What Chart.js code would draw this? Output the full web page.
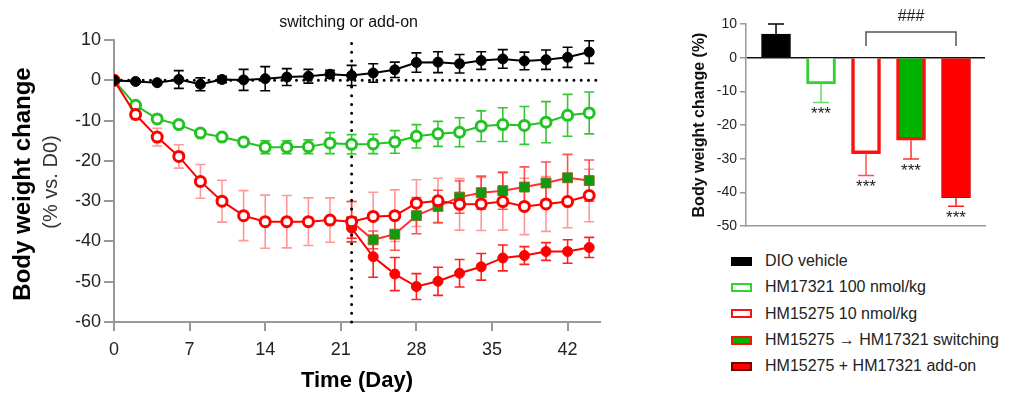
<!DOCTYPE html>
<html>
<head>
<meta charset="utf-8">
<script src="https://cdn.jsdelivr.net/npm/chart.js@4"></script>
<style>
  body { margin: 0; background: #fff; width: 1017px; height: 394px; position: relative; overflow: hidden;
         font-family: "Liberation Sans", Arial, sans-serif; }
  #lineWrap { position: absolute; left: 0; top: 0; }
  #barWrap { position: absolute; left: 680px; top: 0; }
  #legend { position: absolute; left: 731px; top: 248px; }
  .item { display: flex; align-items: center; height: 26.3px; font-size: 16px; color: #222; white-space: nowrap; }
  .box { width: 17px; height: 5px; border: 2px solid; margin-right: 13px; }
</style>
</head>
<body>
<div id="lineWrap"><canvas id="lineChart" width="620" height="394"></canvas></div>
<div id="barWrap"><canvas id="barChart" width="337" height="240"></canvas></div>
<div id="legend"></div>
<script>
// Data
const days = [0, 2, 4, 6, 8, 10, 12, 14, 16, 18, 20, 22, 24, 26, 28, 30, 32, 34, 36, 38, 40, 42, 44];
const lateDays = [22, 24, 26, 28, 30, 32, 34, 36, 38, 40, 42, 44];
const switchDay = 22;

const vehicle = [0, -0.3, -0.6, 0.2, -1.0, 0.2, 0.1, 0.4, 0.8, 1.0, 1.5, 1.2, 1.8, 2.6, 4.4, 4.5, 4.1, 4.9, 5.3, 4.8, 5.1, 5.7, 7.0];
const vehicleErr = [0, 0.3, 0.3, 2.2, 1.6, 0.8, 2.6, 3.0, 2.1, 1.7, 1.0, 2.5, 2.3, 1.9, 2.4, 2.6, 2.3, 2.2, 2.3, 2.2, 2.4, 2.5, 2.8];
const hm17321 = [0, -6.2, -9.6, -11.0, -13.1, -14.1, -15.3, -16.6, -16.6, -16.5, -15.6, -15.9, -15.8, -15.3, -13.9, -13.3, -12.9, -11.4, -11.0, -11.2, -10.4, -8.7, -8.1];
const hm17321Err = [0, 0.6, 0.6, 0.6, 0.6, 0.6, 0.8, 1.6, 1.6, 1.7, 2.6, 2.4, 2.4, 2.8, 2.9, 3.1, 3.6, 3.8, 4.2, 4.7, 5.1, 5.2, 5.2];
const hm15275 = [0, -8.5, -14.1, -18.9, -25.1, -30.0, -33.6, -35.1, -35.1, -35.1, -34.7, -35.1, -33.8, -33.6, -30.5, -29.9, -30.8, -30.7, -30.1, -31.3, -30.7, -30.1, -28.6];
const hm15275Err = [0, 1.2, 2.2, 2.9, 4.2, 5.2, 6.2, 6.6, 6.5, 5.9, 5.5, 5.0, 6.0, 6.4, 5.8, 5.6, 6.4, 6.6, 7.1, 7.0, 6.8, 6.5, 6.5];
const switching = [-35.1, -39.6, -38.2, -33.6, -31.3, -29.0, -27.9, -27.4, -26.5, -25.5, -24.2, -24.9];
const switchingErr = [5, 2.2, 4, 4.5, 4, 4, 4.1, 4.6, 5, 5.2, 5.8, 5.1];
const addOn = [-36.7, -43.8, -48.1, -51.2, -49.9, -47.9, -46.3, -44.1, -43.5, -42.5, -42.5, -41.5];
const addOnErr = [2.5, 5.1, 4.1, 3.2, 3.5, 3.4, 3.3, 3.2, 2.2, 2.2, 2.9, 2.5];

const xTicks = [0, 7, 14, 21, 28, 35, 42];
const yTicks = [10, 0, -10, -20, -30, -40, -50, -60];

const groups = ['DIO vehicle', 'HM17321 100 nmol/kg', 'HM15275 10 nmol/kg', 'HM15275 \u2192 HM17321 switching', 'HM15275 + HM17321 add-on'];
const finalChange = [7, -7.8, -28.5, -24.5, -41.6];
const finalErr = [3, 5.5, 6.5, 5.6, 2.5];
const finalStars = ['', '***', '***', '***', '***'];
const barTicks = [10, 0, -10, -20, -30, -40, -50];

const FONT = '"Liberation Sans", Arial, sans-serif';
const GREEN = '#22c322';
const RED = '#ff0000';

const pts = (xs, ys) => xs.map((x, i) => ({ x: x, y: ys[i] }));

// error bars drawn through the chart scales
const errorBars = {
  id: 'errorBars',
  beforeDatasetsDraw(chart) {
    const { ctx } = chart;
    const xs = chart.scales.x, ys = chart.scales.y;
    chart.data.datasets.forEach(ds => {
      if (!ds.errors) return;
      ctx.save();
      ctx.strokeStyle = ds.errorColor;
      ctx.lineWidth = 1.6;
      ds.data.forEach((p, j) => {
        const e = ds.errors[j];
        if (!e) return;
        const x = xs.getPixelForValue(p.x);
        const top = ys.getPixelForValue(p.y + e);
        const bot = ys.getPixelForValue(p.y - e);
        const c = ds.capHalf || 5;
        ctx.beginPath();
        ctx.moveTo(x, top); ctx.lineTo(x, bot);
        ctx.moveTo(x - c, top); ctx.lineTo(x + c, top);
        ctx.moveTo(x - c, bot); ctx.lineTo(x + c, bot);
        ctx.stroke();
      });
      ctx.restore();
    });
  }
};

const lineText = {
  id: 'lineText',
  afterDraw(chart) {
    const { ctx, chartArea, scales } = chart;
    ctx.save();
    ctx.textAlign = 'center';
    ctx.textBaseline = 'middle';
    ctx.fillStyle = '#111';
    ctx.font = '16px ' + FONT;
    ctx.fillText('switching or add-on', scales.x.getPixelForValue(switchDay) - 3, 23);

    ctx.font = 'bold 22px ' + FONT;
    ctx.fillStyle = '#000';
    ctx.fillText('Time (Day)', (chartArea.left + chartArea.right) / 2, 381);

    ctx.translate(23, 184);
    ctx.rotate(-Math.PI / 2);
    ctx.font = 'bold 24px ' + FONT;
    ctx.fillText('Body weight change', 0, 0);
    ctx.font = '20px ' + FONT;
    ctx.fillStyle = '#333';
    ctx.fillText('(% vs. D0)', 2, 28);
    ctx.restore();
  }
};

new Chart(document.getElementById('lineChart'), {
  type: 'line',
  data: {
    datasets: [
      {
        data: pts(days, vehicle), errors: vehicleErr, errorColor: '#000',
        borderColor: '#000', borderWidth: 2, backgroundColor: '#000',
        pointBackgroundColor: '#000', pointBorderColor: '#000', pointRadius: 5, pointBorderWidth: 1
      },
      {
        data: pts(days, hm15275), errors: hm15275Err, errorColor: 'rgba(255,70,70,0.55)',
        borderColor: RED, borderWidth: 2,
        pointBackgroundColor: '#fff', pointBorderColor: RED, pointRadius: 5, pointBorderWidth: 3
      },
      {
        data: pts(lateDays, addOn), errors: addOnErr, errorColor: '#ff2020',
        borderColor: RED, borderWidth: 2,
        pointBackgroundColor: RED, pointBorderColor: RED, pointRadius: 5, pointBorderWidth: 1
      },
      {
        data: pts(lateDays, switching), errors: switchingErr, errorColor: 'rgba(255,40,40,0.8)',
        borderColor: '#ff3030', borderWidth: 2, pointStyle: 'rect',
        pointBackgroundColor: '#109a10', pointBorderColor: '#8a6a20', pointRadius: 7, pointBorderWidth: 1
      },
      {
        data: pts(days, hm17321), errors: hm17321Err, errorColor: '#33c833',
        borderColor: GREEN, borderWidth: 2,
        pointBackgroundColor: '#fff', pointBorderColor: GREEN, pointRadius: 5, pointBorderWidth: 3
      },
      {
        // dotted zero reference
        data: [{ x: 0, y: 0 }, { x: 45, y: 0 }],
        borderColor: '#000', borderWidth: 3, borderDash: [0, 7.3], borderCapStyle: 'round',
        pointRadius: 0
      },
      {
        // dotted switch day marker
        data: [{ x: switchDay, y: -60 }, { x: switchDay, y: 10.6 }],
        borderColor: '#000', borderWidth: 3, borderDash: [0, 8.7], borderCapStyle: 'round',
        pointRadius: 0, clip: false
      }
    ]
  },
  options: {
    responsive: false,
    animation: false,
    layout: { padding: { top: 40, right: 20, left: 0, bottom: 0 } },
    plugins: { legend: { display: false }, tooltip: { enabled: false } },
    scales: {
      x: {
        type: 'linear', min: 0, max: 45,
        afterBuildTicks: s => { s.ticks = xTicks.map(v => ({ value: v })); },
        afterFit: s => { s.height = 72; },
        ticks: { font: { size: 18, family: FONT }, color: '#222', padding: 8, maxRotation: 0 },
        grid: { drawOnChartArea: false, tickLength: 9, color: '#999', lineWidth: 2 },
        border: { color: '#999', width: 2 }
      },
      y: {
        min: -60, max: 10,
        afterBuildTicks: s => { s.ticks = yTicks.map(v => ({ value: v })); },
        afterFit: s => { s.width = 114; },
        ticks: { font: { size: 18, family: FONT }, color: '#222', padding: 3 },
        grid: { drawOnChartArea: false, tickLength: 10, color: '#999', lineWidth: 2 },
        border: { color: '#999', width: 2 }
      }
    }
  },
  plugins: [errorBars, lineText]
});

// Bar chart of final change
const barFill = ['#000', '#fff', '#fff', '#00b300', '#ff0000'];
const barEdge = ['#000', '#33d033', '#ff1010', '#ff1010', '#d00000'];
const barEdgeW = [1, 3, 3.5, 3.5, 1];
const barErrColor = ['#000', '#66dd66', '#ff5555', '#ff3030', '#ff2020'];

const barText = {
  id: 'barText',
  afterDatasetsDraw(chart) {
    const { ctx, scales } = chart;
    const xs = scales.x, ys = scales.y;
    ctx.save();
    finalChange.forEach((v, i) => {
      const x = xs.getPixelForValue(i);
      const e = v >= 0 ? v + finalErr[i] : v - finalErr[i];
      const y0 = ys.getPixelForValue(v), y1 = ys.getPixelForValue(e);
      ctx.strokeStyle = barErrColor[i];
      ctx.lineWidth = 1.5;
      ctx.beginPath();
      ctx.moveTo(x, y0); ctx.lineTo(x, y1);
      ctx.moveTo(x - 8, y1); ctx.lineTo(x + 8, y1);
      ctx.stroke();
      if (finalStars[i]) {
        ctx.fillStyle = '#222';
        ctx.font = '17px ' + FONT;
        ctx.textAlign = 'center';
        ctx.textBaseline = 'middle';
        ctx.fillText(finalStars[i], x, y1 + 12);
      }
    });
    // ### bracket between groups 3 and 5
    const xa = xs.getPixelForValue(2), xb = xs.getPixelForValue(4);
    ctx.strokeStyle = '#555';
    ctx.lineWidth = 1.5;
    ctx.beginPath();
    ctx.moveTo(xa, 46); ctx.lineTo(xa, 32); ctx.lineTo(xb, 32); ctx.lineTo(xb, 46);
    ctx.stroke();
    ctx.fillStyle = '#222';
    ctx.font = '16px ' + FONT;
    ctx.textAlign = 'center';
    ctx.textBaseline = 'middle';
    ctx.fillText('###', (xa + xb) / 2, 17);

    ctx.translate(20, (chart.chartArea.top + chart.chartArea.bottom) / 2);
    ctx.rotate(-Math.PI / 2);
    ctx.font = 'bold 16px ' + FONT;
    ctx.fillStyle = '#111';
    ctx.fillText('Body weight change (%)', 0, 0);
    ctx.restore();
  }
};

new Chart(document.getElementById('barChart'), {
  type: 'bar',
  data: {
    datasets: [{
      data: finalChange.map((v, i) => ({ x: i, y: v })),
      backgroundColor: barFill,
      borderColor: barEdge,
      borderWidth: barEdgeW,
      barThickness: 29
    }]
  },
  options: {
    responsive: false,
    animation: false,
    layout: { padding: { top: 24, right: 32, left: 0, bottom: 14 } },
    plugins: { legend: { display: false }, tooltip: { enabled: false } },
    scales: {
      x: {
        type: 'linear', min: -0.667, max: 4.644, offset: false,
        afterFit: s => { s.height = 0; },
        ticks: { display: false },
        grid: { display: true, drawOnChartArea: false, drawTicks: false },
        border: { color: '#999', width: 1.5 }
      },
      y: {
        min: -50, max: 10,
        afterBuildTicks: s => { s.ticks = barTicks.map(v => ({ value: v })); },
        afterFit: s => { s.width = 66; },
        ticks: { font: { size: 14, family: FONT }, color: '#222', padding: 3 },
        grid: {
          color: c => (c.tick && c.tick.value === 0 ? '#111' : 'rgba(0,0,0,0)'),
          lineWidth: 1.5, tickColor: '#999', tickLength: 6
        },
        border: { color: '#999', width: 1.5 }
      }
    }
  },
  plugins: [barText]
});

// Legend
const legend = document.getElementById('legend');
groups.forEach((name, i) => {
  const row = document.createElement('div');
  row.className = 'item';
  row.innerHTML = `<span class="box" style="background:${barFill[i]};border-color:${i === 4 ? '#700' : barEdge[i]}"></span>${name}`;
  legend.appendChild(row);
});
</script>
</body>
</html>
